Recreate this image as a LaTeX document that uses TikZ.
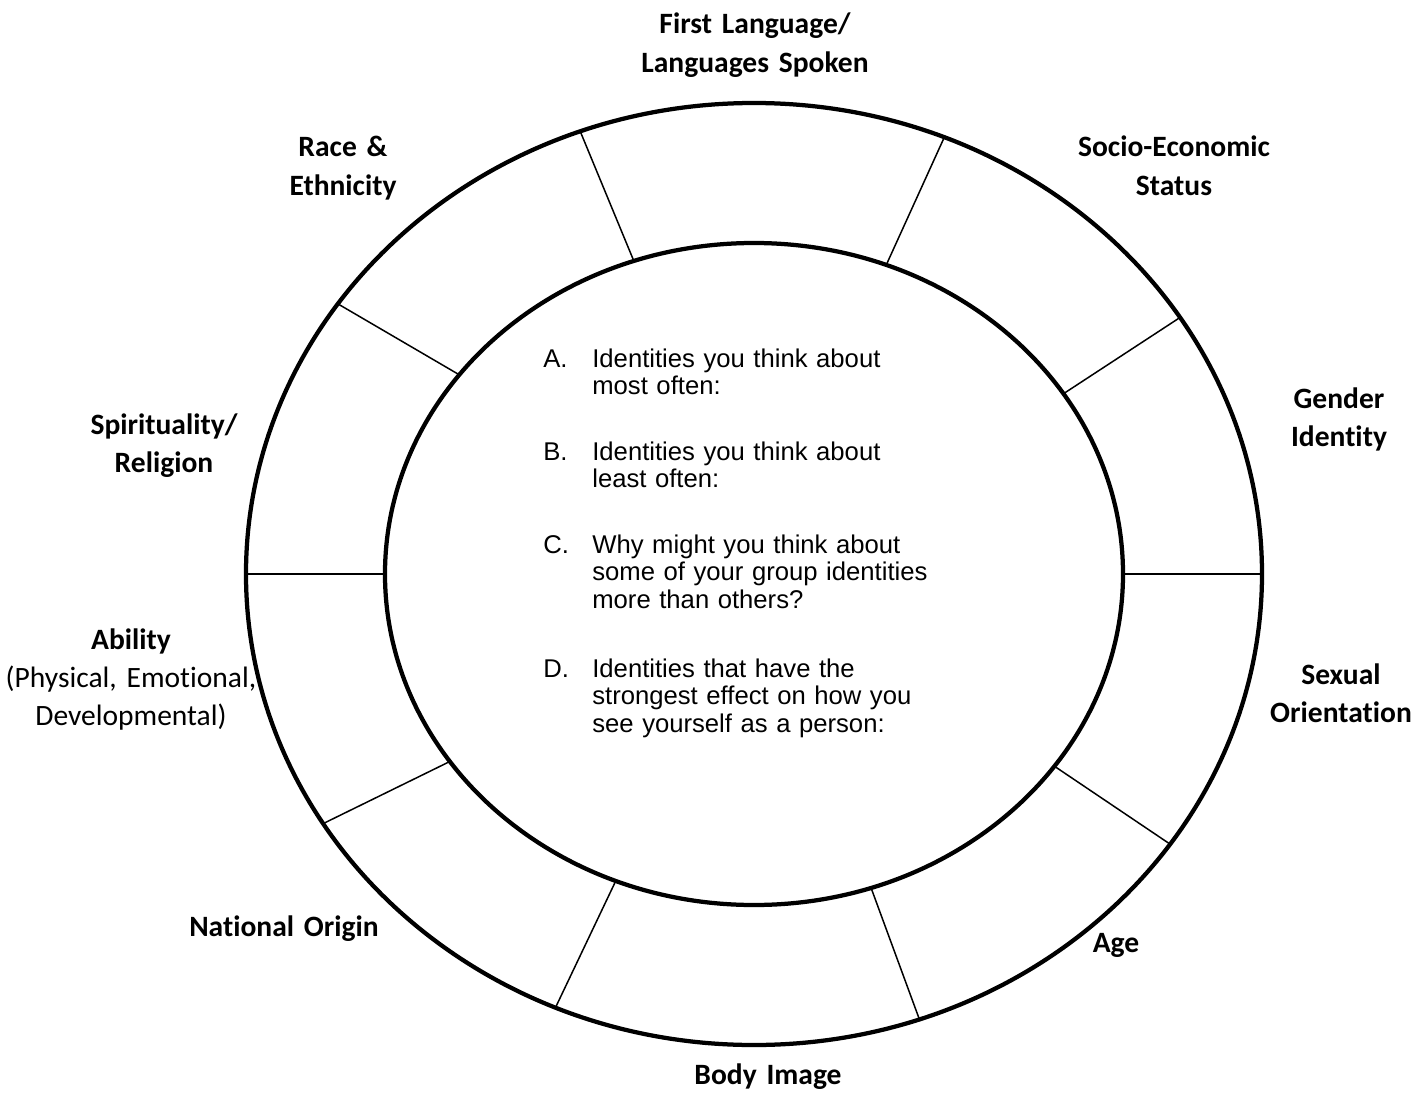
\documentclass[tikz,border=0pt]{standalone}
\usepackage{fontspec}
\setmainfont{Carlito}[Ligatures=NoCommon]
\newfontfamily\qfont{Liberation Sans}
\begin{document}
\begin{tikzpicture}[x=0.2mm, y=0.2mm,
    ring/.style={line width=0.85mm},
    spoke/.style={line width=0.3mm},
    lbl/.style={font=\fontsize{16.8}{21.8}\selectfont\bfseries, align=center,
      text width=80mm, anchor=base, inner sep=0pt},
    qlbl/.style={font=\fontsize{14.6}{15.9}\selectfont\qfont, anchor=base west,
      inner sep=0pt},
    qtext/.style={qlbl, align=left, text width=70mm}]
  \useasboundingbox (-754,-518) rectangle (668,574);
  % spokes between the rings (inner angle / outer angle)
  \foreach \ai/\ao in {109/110, 69/68, 33/33, 0/0, -35.5/-35, -71.5/-71,
                       -112/-113, -145.5/-148, 180/180, 143/145}
    \draw[spoke] (\ai:369 and 331) -- (\ao:508 and 471);
  % the two rings
  \draw[ring] (0,0) ellipse [x radius=508, y radius=471];
  \draw[ring] (0,0) ellipse [x radius=369, y radius=331];
  % identity labels round the wheel
  \node[lbl] (lang) at (1,540) {First Language/\\Languages Spoken};
  \node[lbl] (ses) at (420,417) {Socio-Economic\\Status};
  \node[lbl] (gender) at (585,166) {Gender\\Identity};
  \node[lbl] (sexor) at (587,-110) {Sexual\\Orientation};
  \node[lbl] (age) at (362,-378) {Age};
  \node[lbl] (body) at (14,-510) {Body Image};
  \node[lbl] (natorig) at (-470,-362) {National Origin};
  \node[lbl] (ability) at (-623,-75)
    {Ability\\\mdseries(Physical, Emotional,\\Developmental)};
  \node[lbl] (spirit) at (-590,140) {Spirituality/\\Religion};
  \node[lbl] (race) at (-411,417) {Race \&\\Ethnicity};
  % questions in the middle
  \node[qlbl] (la) at (-211,207) {A.};
  \node[qtext] (qa) at (-162,207) {Identities you think about\\most often:};
  \node[qlbl] (lb) at (-211,114) {B.};
  \node[qtext] (qb) at (-162,114) {Identities you think about\\least often:};
  \node[qlbl] (lc) at (-211,21) {C.};
  \node[qtext] (qc) at (-162,21)
    {Why might you think about\\some of your group identities\\more than others?};
  \node[qlbl] (ld) at (-211,-103) {D.};
  \node[qtext] (qd) at (-162,-103)
    {Identities that have the\\strongest effect on how you\\see yourself as a person:};
\end{tikzpicture}
\end{document}
